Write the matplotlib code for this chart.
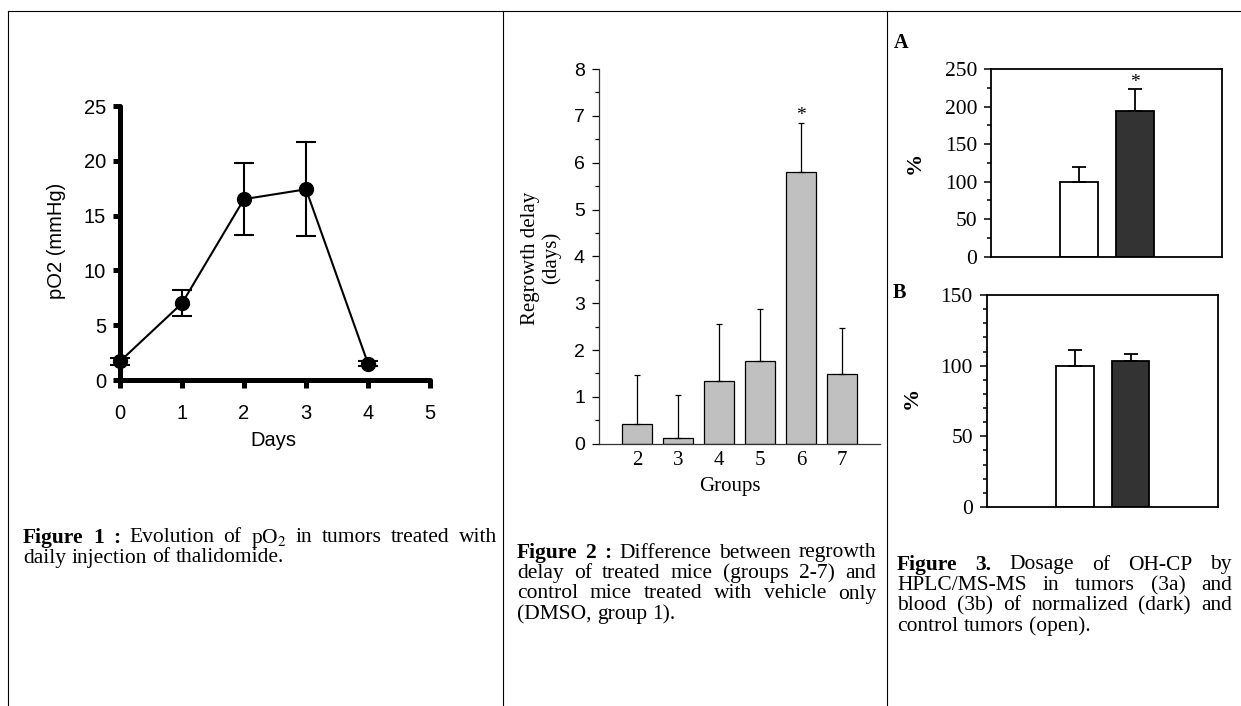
import matplotlib
matplotlib.use('Agg')
import matplotlib.pyplot as plt
from matplotlib.lines import Line2D
from matplotlib.ticker import MultipleLocator

W, H = 1241, 706

# figure 1: pO2 vs days
days = [0, 1, 2, 3, 4]
po2 = [1.7, 7.0, 16.5, 17.4, 1.5]
po2_err = [0.3, 1.2, 3.3, 4.3, 0.2]

# figure 2: regrowth delay per group
groups = ['2', '3', '4', '5', '6', '7']
delay = [0.43, 0.13, 1.33, 1.76, 5.81, 1.48]
delay_err = [1.04, 0.91, 1.23, 1.12, 1.04, 0.98]

# figure 3: OH-CP dosage, control (open) / normalized (dark)
tumor_pct = [100, 194]
tumor_err = [20, 29]
blood_pct = [100, 103]
blood_err = [11, 5]

cap1 = [("Figure 1 :", "Evolution of pO$_2$ in tumors treated with"),
        ("", "daily injection of thalidomide.")]
cap2 = [("Figure 2 :", "Difference between regrowth"),
        ("", "delay of treated mice (groups 2-7) and"),
        ("", "control mice treated with vehicle only"),
        ("", "(DMSO, group 1).")]
cap3 = [("Figure 3.", "Dosage of OH-CP by"),
        ("", "HPLC/MS-MS in tumors (3a) and"),
        ("", "blood (3b) of normalized (dark) and"),
        ("", "control tumors (open).")]

plt.rcParams['mathtext.fontset'] = 'stix'
SANS = 'Liberation Sans'
SERIF = 'Liberation Serif'

fig = plt.figure(figsize=(W / 100, H / 100), dpi=100)


def rect(xa, pxa, xb, pxb, xlim, ya, pya, yb, pyb, ylim):
    sx = (pxb - pxa) / (xb - xa)
    sy = (pyb - pya) / (yb - ya)
    l = pxa + (xlim[0] - xa) * sx
    r = pxa + (xlim[1] - xa) * sx
    b = pya + (ylim[0] - ya) * sy
    t = pya + (ylim[1] - ya) * sy
    return [l / W, 1 - b / H, (r - l) / W, (b - t) / H]


def ftext(x, y, s, **kw):
    return fig.text(x / W, 1 - y / H, s, **kw)


# frame lines of the table
lw_frame = 0.8
fig.add_artist(Line2D([8 / W, 1], [1 - 11 / H] * 2, color='k', lw=lw_frame))
for xp in (8, 503, 887):
    fig.add_artist(Line2D([xp / W] * 2, [0, 1 - 11 / H], color='k', lw=lw_frame))

# ---- figure 1
xl1, yl1 = (-0.25, 5.25), (-1, 25.5)
ax1 = fig.add_axes(rect(0, 120, 5, 430, xl1, 0, 380, 25, 106, yl1))
ax1.set_xlim(xl1)
ax1.set_ylim(yl1)
ax1.errorbar(days, po2, yerr=po2_err, color='k', lw=1.5, marker='o', ms=10,
             elinewidth=1.5, capsize=7, capthick=1.5, clip_on=False, zorder=3)
for s in ('top', 'right'):
    ax1.spines[s].set_visible(False)
ax1.spines['left'].set_position(('data', 0))
ax1.spines['bottom'].set_position(('data', 0))
ax1.spines['left'].set_bounds(0, 25)
ax1.spines['bottom'].set_bounds(0, 5)
for s in ('left', 'bottom'):
    ax1.spines[s].set_linewidth(3.6)
    ax1.spines[s].set_capstyle('round')
ax1.set_xticks(range(6))
ax1.set_yticks(range(0, 26, 5))
ax1.tick_params(axis='y', direction='out', length=5, width=3.6, pad=5)
ax1.tick_params(axis='x', direction='out', length=6, width=3.6, pad=11)
ax1.patch.set_visible(False)
for lab in ax1.get_xticklabels() + ax1.get_yticklabels():
    lab.set_family(SANS)
    lab.set_fontsize(14.5)
ftext(56, 241, 'pO2 (mmHg)', family=SANS, fontsize=14.5, rotation=90,
      ha='center', va='center')
ftext(273, 440, 'Days', family=SANS, fontsize=14.5, ha='center', va='center')

# ---- figure 2
xl2, yl2 = (-0.93, 5.93), (0, 8)
ax2 = fig.add_axes(rect(0, 637, 5, 842, xl2, 0, 443.7, 8, 69, yl2))
ax2.set_xlim(xl2)
ax2.set_ylim(yl2)
xpos = list(range(len(groups)))
ax2.bar(xpos, delay, width=0.71, color='#c0c0c0', edgecolor='k', lw=0.9, zorder=2)
ax2.errorbar(xpos, delay, yerr=[[0] * len(delay), delay_err], fmt='none',
             ecolor='k', elinewidth=0.9, capsize=2.5, capthick=0.9, zorder=3)
for s in ('top', 'right'):
    ax2.spines[s].set_visible(False)
for s in ('left', 'bottom'):
    ax2.spines[s].set_linewidth(0.9)
    ax2.spines[s].set_color('#333333')
ax2.yaxis.set_major_locator(MultipleLocator(1))
ax2.yaxis.set_minor_locator(MultipleLocator(0.5))
ax2.set_xticks(xpos)
ax2.set_xticklabels(groups)
ax2.tick_params(axis='y', which='major', direction='out', length=5, width=0.9, pad=5)
ax2.tick_params(axis='y', which='minor', direction='out', length=3, width=0.9)
ax2.tick_params(axis='x', length=0, pad=5)
for lab in ax2.get_yticklabels():
    lab.set_family(SANS)
    lab.set_fontsize(14)
for lab in ax2.get_xticklabels():
    lab.set_family(SERIF)
    lab.set_fontsize(15)
ax2.annotate('*', (4, delay[4] + delay_err[4]), xytext=(0, -1),
             textcoords='offset points', ha='center', va='bottom',
             family=SERIF, fontsize=14)
ftext(541, 258, 'Regrowth delay\n(days)', family=SERIF, fontsize=15,
      rotation=90, ha='center', va='center', linespacing=1.15)
ftext(730, 486, 'Groups', family=SERIF, fontsize=15, ha='center', va='center')

# ---- figure 3
def pct_panel(ax, vals, errs, major, minor):
    xp = [0, 1]
    ax.bar(xp, vals, width=0.68, color=['white', '#333333'], edgecolor='k',
           lw=1.3, zorder=2)
    ax.errorbar(xp, vals, yerr=[[0, 0], errs], fmt='none', ecolor='k',
                elinewidth=1.3, capsize=5, capthick=1.3, zorder=3)
    for s in ax.spines.values():
        s.set_linewidth(1.3)
    ax.yaxis.set_major_locator(MultipleLocator(major))
    ax.yaxis.set_minor_locator(MultipleLocator(minor))
    ax.set_xticks([])
    ax.tick_params(axis='y', which='major', direction='out', length=5, width=1.1, pad=5)
    ax.tick_params(axis='y', which='minor', direction='out', length=3, width=1.1)
    for lab in ax.get_yticklabels():
        lab.set_family(SERIF)
        lab.set_fontsize(15.5)


xl3, yl3 = (-1.57, 2.55), (0, 250)
ax3 = fig.add_axes(rect(0, 1079, 1, 1135, xl3, 0, 256.7, 250, 69, yl3))
ax3.set_xlim(xl3)
ax3.set_ylim(yl3)
pct_panel(ax3, tumor_pct, tumor_err, 50, 25)
ax3.annotate('*', (1, tumor_pct[1] + tumor_err[1]), xytext=(0, -1.5),
             textcoords='offset points', ha='center', va='bottom',
             family=SERIF, fontsize=14)

xl4, yl4 = (-1.59, 2.58), (0, 150)
ax4 = fig.add_axes(rect(0, 1075, 1, 1130.5, xl4, 0, 507, 150, 295, yl4))
ax4.set_xlim(xl4)
ax4.set_ylim(yl4)
pct_panel(ax4, blood_pct, blood_err, 50, 10)

ftext(901, 43, 'A', family=SERIF, fontsize=14.5, weight='bold', ha='center', va='center')
ftext(899, 293, 'B', family=SERIF, fontsize=14.5, weight='bold', ha='center', va='center')
ftext(915, 163, '%', family=SERIF, fontsize=16, weight='bold', rotation=90,
      ha='center', va='center')
ftext(912, 398, '%', family=SERIF, fontsize=16, weight='bold', rotation=90,
      ha='center', va='center')

# ---- captions, justified like the source document
renderer = fig.canvas.get_renderer()


def caption(lines, x0, x1, ytop, fs=15.5, lh=20):
    probe = ftext(0, 0, 'a a', family=SERIF, fontsize=fs)
    probe2 = ftext(0, 0, 'aa', family=SERIF, fontsize=fs)
    space = probe.get_window_extent(renderer).width - probe2.get_window_extent(renderer).width
    probe.remove()
    probe2.remove()
    for i, (bold, rest) in enumerate(lines):
        y = ytop + i * lh
        words = [(w, 'bold') for w in bold.split()] + [(w, 'normal') for w in rest.split()]
        arts = [ftext(0, y, w, family=SERIF, fontsize=fs, weight=wt, va='center')
                for w, wt in words]
        widths = [a.get_window_extent(renderer).width for a in arts]
        last = i == len(lines) - 1
        if not last and len(arts) > 1:
            gap = (x1 - x0 - sum(widths)) / (len(arts) - 1)
        else:
            gap = space
        x = x0
        for a, wd in zip(arts, widths):
            a.set_x(x / W)
            x += wd + gap


caption(cap1, 23, 497, 538, lh=20)
caption(cap2, 517, 876, 553, lh=20.5)
caption(cap3, 897, 1232, 565, lh=20.5)

fig.savefig('out.png', dpi=100)
